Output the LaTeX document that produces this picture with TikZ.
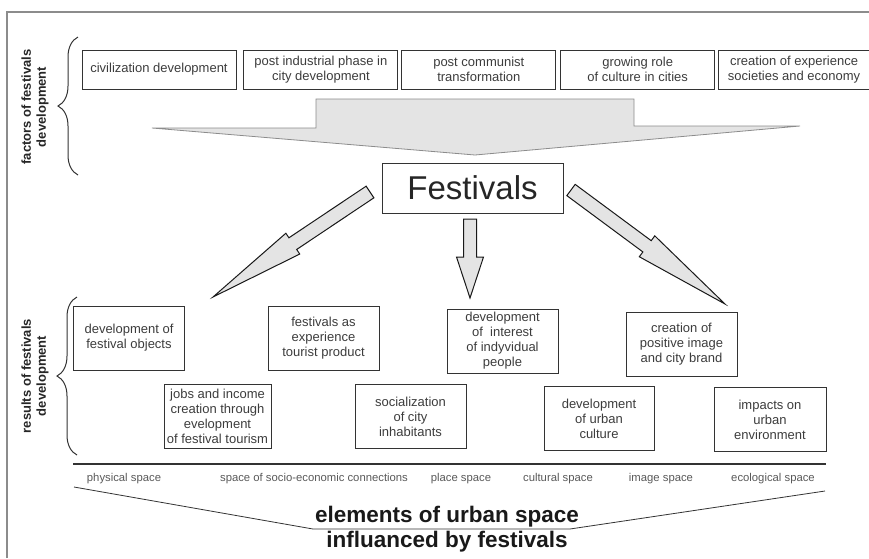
\documentclass[tikz,border=0pt]{standalone}
\usepackage{fontspec}
\setmainfont{Liberation Sans}
\usepackage{xcolor}
\usetikzlibrary{positioning, calc, decorations.pathreplacing}

\definecolor{linegray}{HTML}{333333}
\definecolor{txtgray}{HTML}{3C3C3C}
\definecolor{fillgray}{HTML}{E4E4E4}
\definecolor{framegray}{HTML}{8C8C8C}

% fat arrow: tail, tip, head length, shaft half width, head half width
\newcommand{\fatarrow}[5]{%
  \coordinate (#1-base) at ($(#2)!#3!(#1)$);
  \draw[bigarrow] ($(#1)!#4!90:(#2)$) -- ($(#1-base)!#4!90:(#2)$) -- ($(#1-base)!#5!90:(#2)$) -- (#2)
    -- ($(#1-base)!#5!-90:(#2)$) -- ($(#1-base)!#4!-90:(#2)$) -- ($(#1)!#4!-90:(#2)$) -- cycle;}

\begin{document}
\begin{tikzpicture}[
  x=1pt, y=-1pt,
  factor/.style={rectangle, draw=linegray, line width=0.9pt, minimum width=154pt, minimum height=39pt, inner sep=1pt, text=txtgray, font=\fontsize{13}{15.5}\selectfont},
  result/.style={rectangle, draw=linegray, line width=0.9pt, minimum width=111pt, minimum height=64pt, inner sep=1pt, text=txtgray, font=\fontsize{13}{15}\selectfont},
  spacelabel/.style={text=txtgray!85, font=\fontsize{11.3}{13}\selectfont, inner sep=0pt},
  sidelabel/.style={rotate=90, font=\fontsize{13}{15}\selectfont\bfseries, text=black!85},
  curly/.style={decorate, decoration={brace, amplitude=20pt}, line width=1pt, draw=linegray},
  bigarrow/.style={draw=black!90, fill=fillgray, line width=1pt, line join=miter},
  every node/.style={align=center}
]
\useasboundingbox (0,0) rectangle (869,558);

%% Frame
\draw[framegray, line width=1.3pt] (7,558) -- (7,12) -- (869,12);

%% Factors
\node[sidelabel] (factorslbl) at (35,107) {factors of festivals\\development};
\draw[curly] (78,175) -- (78,37);

\node[factor] (civ) at (159,69.5) {civilization development};
\node[factor, right=7pt of civ] (postind) {post industrial phase in\\city development};
\node[factor, right=3pt of postind] (postcom) {post communist\\transformation};
\node[factor, right=4pt of postcom] (culture) {growing role\\of culture in cities};
\node[factor, minimum width=151pt, right=3pt of culture] (experience) {creation of experience\\societies and economy};

%% Funnel
\draw[draw=framegray, fill=fillgray, line width=0.8pt] (152,128) -- (316,128) -- (316,99) -- (634,99)
  -- (634,126) -- (800,126) -- (475,155) -- cycle;

%% Festivals
\node[draw=linegray, line width=1pt, minimum width=181pt, minimum height=50pt, font=\fontsize{33}{36}\selectfont, text=black!85] (fest) at (472.5,188) {Festivals};

\coordinate (lt) at (370,192);
\coordinate (lp) at (213,297);
\coordinate (mt) at (470,219);
\coordinate (mp) at (470,298);
\coordinate (rt) at (571,190);
\coordinate (rp) at (725,304);
\fatarrow{lt}{lp}{96pt}{7pt}{12.5pt}
\fatarrow{mt}{mp}{41pt}{6.5pt}{13.5pt}
\fatarrow{rt}{rp}{97pt}{7pt}{13pt}

%% Results
\node[sidelabel] (resultslbl) at (35,376) {results of festivals\\development};
\draw[curly] (77,455) -- (77,297);

\node[result] (objects) at (129,338) {development of\\festival objects};
\node[result] (product) at (323.5,338) {festivals as\\experience\\tourist product};
\node[result] (interest) at (502.5,341) {development\\of~ interest\\of indyvidual\\people};
\node[result] (brand) at (681.5,344.5) {creation of\\positive image\\and city brand};
\node[result, minimum width=107pt] (jobs) at (217.5,416.5) {jobs and income\\creation through\\evelopment\\of festival tourism};
\node[result] (social) at (410.5,416.5) {socialization\\of city\\inhabitants};
\node[result, minimum width=110pt] (urbculture) at (599,418.5) {development\\of urban\\culture};
\node[result, minimum width=112pt] (environment) at (770,419.5) {impacts on\\urban\\environment};

%% Elements of urban space
\coordinate (axisl) at (73,464);
\coordinate (axisr) at (826,464);
\draw[linegray, line width=2pt] (axisl) -- (axisr);

\node[spacelabel] (physical) at (124,479) {physical space};
\node[spacelabel] (socio) at (314,479) {space of socio-economic connections};
\node[spacelabel] (place) at (461,479) {place space};
\node[spacelabel] (cultural) at (558,479) {cultural space};
\node[spacelabel] (image) at (661,479) {image space};
\node[spacelabel] (ecological) at (773,479) {ecological space};

\coordinate (fl) at (74,487);
\coordinate (fb1) at (313,529);
\coordinate (fb2) at (570,529);
\coordinate (fr) at (825,491);
\draw[linegray, line width=0.8pt] (fl) -- (fb1) -- (fb2) -- (fr);

\node[font=\fontsize{22.5}{25}\selectfont\bfseries, text=black!90] (elements) at (447,529.5) {elements of urban space\\influanced by festivals};

\end{tikzpicture}
\end{document}
